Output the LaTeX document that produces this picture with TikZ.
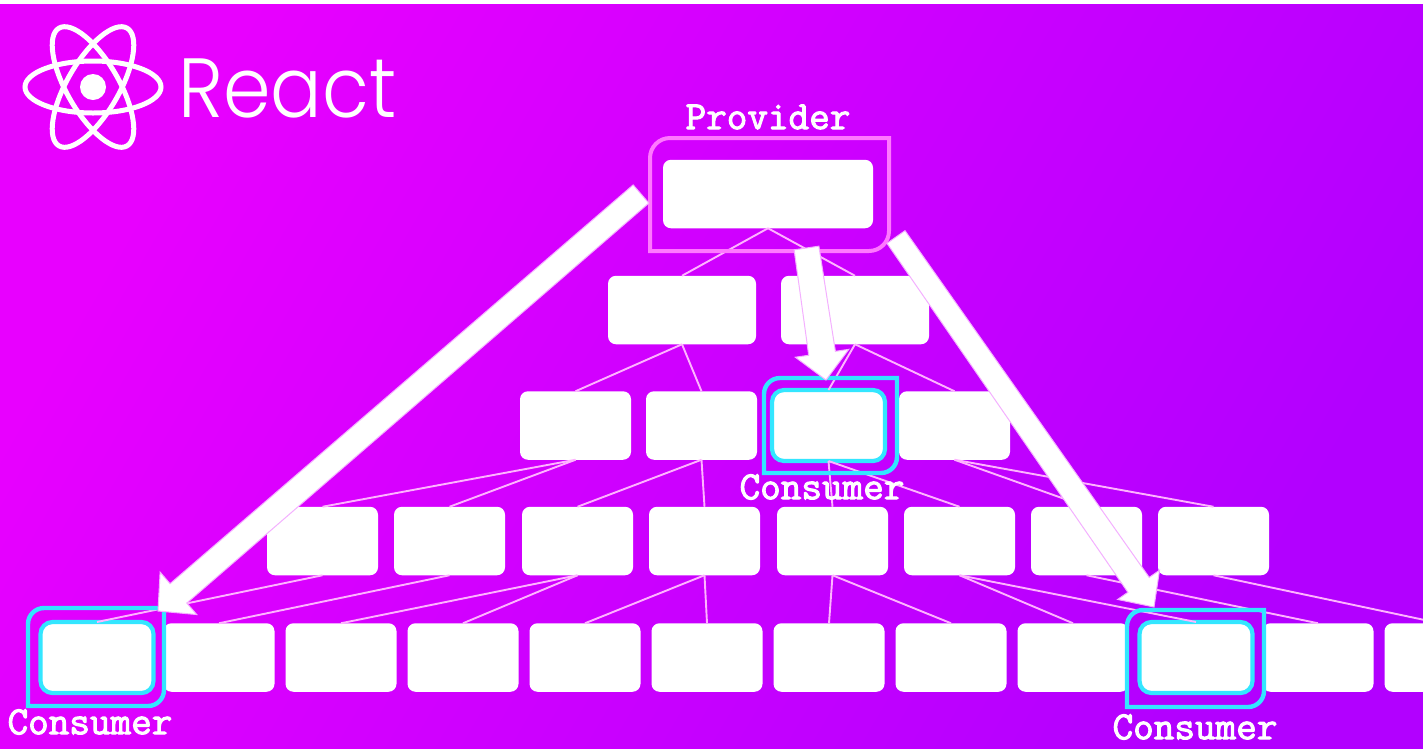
\documentclass[tikz,border=0pt]{standalone}
\usepackage{fontspec}
\usetikzlibrary{calc}
\setmonofont[FakeBold=2.5]{Latin Modern Mono}
\newfontfamily\reactfont[FakeStretch=0.91]{Poppins Light}
\definecolor{bgA}{HTML}{E800FF}
\definecolor{bgB}{HTML}{B200FF}
\definecolor{edgeC}{HTML}{FFB4FF}
\definecolor{provC}{HTML}{FF78FF}
\definecolor{consC}{HTML}{33E6FF}
\definecolor{outC}{HTML}{F4B0FF}
\tikzset{
  x=1pt,y=-1pt,
  tree/.style={draw=none,fill=white,rounded corners=8pt,inner sep=0pt,outer sep=0pt,minimum height=68.5pt,minimum width=111pt},
  wide/.style={tree,minimum width=148pt},
  top/.style={tree,minimum width=210pt},
  consumer/.style={tree,draw=consC,line width=4.2pt,rounded corners=12pt,minimum width=113pt,minimum height=71pt},
  link/.style={draw=edgeC,line width=1.9pt},
  provframe/.style={draw=provC,line width=4pt,fill=none},
  consframe/.style={draw=consC,line width=4.4pt,fill=none},
  fat/.style={fill=white,draw=outC,line width=1pt,line join=miter},
  caption/.style={text=white,font=\ttfamily\fontsize{40}{40}\selectfont,inner sep=0pt},
  logo/.style={draw=white,line width=5pt,fill=none}
}
% #1 tail, #2 tip, #3 tail half-width, #4 neck half-width, #5 head half-width, #6 head length
\newcommand{\fatarrow}[6]{%
  \coordinate (hb) at ($(#2)!#6!(#1)$);
  \draw[fat] ($(#1)!#3!90:(#2)$) -- ($(hb)!#4!90:(#2)$) -- ($(hb)!#5!90:(#2)$) -- (#2)
     -- ($(hb)!#5!-90:(#2)$) -- ($(hb)!#4!-90:(#2)$) -- ($(#1)!#3!-90:(#2)$) -- cycle;
}
\newcommand{\cornerframe}[6]{%
  \draw[#1] (#2,#5) [rounded corners=#6] -- (#2,#3) [sharp corners] -- (#4,#3) [rounded corners=#6] -- (#4,#5) [sharp corners] -- cycle;
}
\begin{document}
\begin{tikzpicture}
\useasboundingbox (0,0) rectangle (1423,748);
\fill[white] (0,0) rectangle (1423,748);
\shade[top color=bgA,bottom color=bgB,shading angle=60] (0,4) rectangle (1423,748);
\begin{scope}
\clip (0,0) rectangle (1423,748);
% tree nodes
\node[top] (p) at (768,194) {};
\node[wide] (a1) at (682,310) {};
\node[wide] (a2) at (855,310) {};
\node[tree] (b1) at (575.5,425.5) {};
\node[tree] (b2) at (701.5,425.5) {};
\node[consumer] (b3) at (828.5,425.5) {};
\node[tree] (b4) at (954.5,425.5) {};
\foreach \n/\x in {c1/322.5,c2/449.5,c3/577.5,c4/704.5,c5/832.5,c6/959.5,c7/1086.5,c8/1213.5}
  \node[tree] (\n) at (\x,541) {};
\node[consumer] (d1) at (97,657.5) {};
\foreach \n/\x in {d2/219,d3/341,d4/463,d5/585,d6/707,d7/829,d8/951,d9/1073}
  \node[tree] (\n) at (\x,657.5) {};
\node[consumer] (d10) at (1196,657.5) {};
\node[tree] (d11) at (1318,657.5) {};
\node[tree] (d12) at (1440,657.5) {};
% links
\foreach \u/\v in {p/a1,p/a2,a1/b1,a1/b2,a2/b3,a2/b4,
  b1/c1,b1/c2,b2/c3,b2/c4,b3/c5,b3/c6,b4/c7,b4/c8,
  c1/d1,c2/d2,c3/d3,c3/d4,c4/d5,c4/d6,c5/d7,c5/d8,c6/d9,c6/d10,c7/d11,c8/d12}
  \draw[link] (\u.south) -- (\v.north);
\end{scope}
% frames
\cornerframe{provframe}{650}{138}{889}{251}{20pt}
\cornerframe{consframe}{764}{378}{897}{473}{16pt}
\cornerframe{consframe}{28}{608}{164}{706}{16pt}
\cornerframe{consframe}{1127}{610}{1264}{707}{16pt}
% big arrows
\coordinate (t1) at (641,194);
\coordinate (h1) at (158,611);
\coordinate (t2) at (806.5,248);
\coordinate (h2) at (826,380);
\coordinate (t3) at (896,237);
\coordinate (h3) at (1154,607);
\fatarrow{t1}{h1}{12pt}{12.8pt}{28pt}{27pt}
\fatarrow{t2}{h2}{12.5pt}{13.5pt}{27pt}{27pt}
\fatarrow{t3}{h3}{11pt}{13pt}{25.5pt}{27pt}
% captions
\node[caption] (lp) at (768,117) {Provider};
\node[caption] (lc1) at (822,487) {Consumer};
\node[caption] (lc2) at (90,722) {Consumer};
\node[caption] (lc3) at (1195,727) {Consumer};
% logo
\coordinate (atom) at (93,87);
\draw[logo] (atom) ellipse [x radius=68pt,y radius=26pt];
\draw[logo,rotate around={60:(atom)}] (atom) ellipse [x radius=68pt,y radius=26pt];
\draw[logo,rotate around={-60:(atom)}] (atom) ellipse [x radius=68pt,y radius=26pt];
\fill[white] (atom) circle [radius=13pt];
\node[text=white,anchor=base west,inner sep=0pt,font=\reactfont\fontsize{84}{84}\selectfont] (rt) at (178,117) {React};
\end{tikzpicture}
\end{document}
